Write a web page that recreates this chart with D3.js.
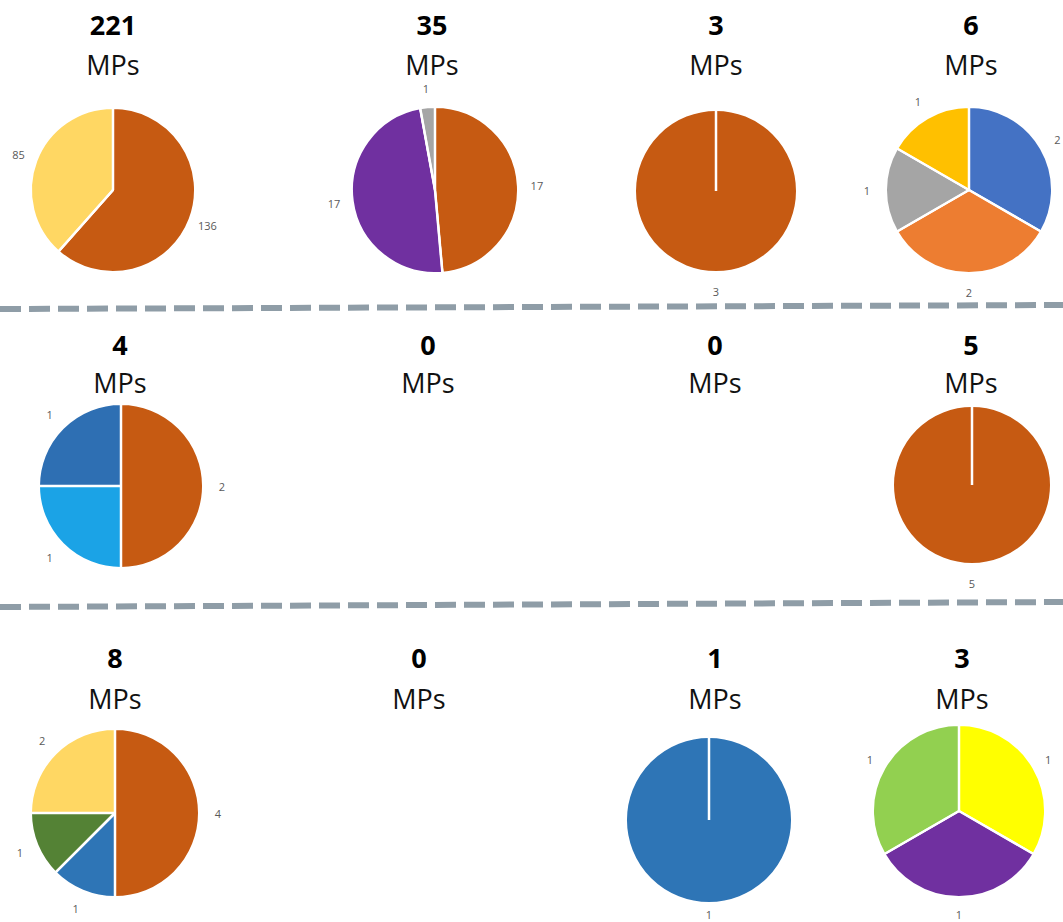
<!DOCTYPE html>
<html>
<head>
<meta charset="utf-8">
<script src="https://cdn.jsdelivr.net/npm/d3@7"></script>
<style>
  html, body { margin: 0; padding: 0; background: #ffffff; }
  svg { display: block; }
</style>
</head>
<body>
<svg id="chart" width="1063" height="922"></svg>
<script>
// MPs per group, read row by row (3 rows x 4 columns)
const totals = [221, 35, 3, 6, 4, 0, 0, 5, 8, 0, 1, 3];

// Party breakdown of each group, slices listed clockwise from 12 o'clock
const sliceValues = [
  [136, 85],
  [17, 17, 1],
  [3],
  [2, 2, 1, 1],
  [2, 1, 1],
  [],
  [],
  [5],
  [4, 1, 1, 2],
  [],
  [1],
  [1, 1, 1]
];

const sliceColors = [
  ["#c65a12", "#ffd763"],
  ["#c65a12", "#7030a0", "#a5a5a5"],
  ["#c65a12"],
  ["#4472c4", "#ed7d31", "#a5a5a5", "#ffc000"],
  ["#c65a12", "#1ba3e6", "#2e6fb3"],
  [],
  [],
  ["#c65a12"],
  ["#c65a12", "#2e75b6", "#548235", "#ffd763"],
  [],
  ["#2e75b6"],
  ["#ffff00", "#7030a0", "#92d050"]
];

const unitLabel = "MPs";

// Panel placement: title centre x, number baseline, unit baseline, pie centre, radius, label gap
const panels = [
  { tx: 113, ny: 35,  uy: 75,  cx: 113, cy: 190, r: 82, lg: 19 },
  { tx: 432, ny: 35,  uy: 75,  cx: 435, cy: 190, r: 83, lg: 19 },
  { tx: 716, ny: 35,  uy: 75,  cx: 716, cy: 191, r: 81, lg: 19 },
  { tx: 971, ny: 35,  uy: 75,  cx: 969, cy: 190, r: 83, lg: 19 },
  { tx: 120, ny: 355, uy: 393, cx: 121, cy: 486, r: 82, lg: 19 },
  { tx: 428, ny: 355, uy: 393 },
  { tx: 715, ny: 355, uy: 393 },
  { tx: 971, ny: 355, uy: 393, cx: 972, cy: 485, r: 79, lg: 19 },
  { tx: 115, ny: 668, uy: 709, cx: 115, cy: 813, r: 84, lg: 19 },
  { tx: 419, ny: 668, uy: 709 },
  { tx: 715, ny: 668, uy: 709, cx: 709, cy: 820, r: 83, lg: 11 },
  { tx: 962, ny: 668, uy: 709, cx: 959, cy: 811, r: 86, lg: 17 }
];

// Dashed row separators (slightly tilted)
const separators = [
  { x1: 0, y1: 309, x2: 1063, y2: 305 },
  { x1: 0, y1: 607, x2: 1063, y2: 602 }
];

const svg = d3.select("#chart");

svg.selectAll("line.sep")
  .data(separators)
  .join("line")
  .attr("class", "sep")
  .attr("x1", d => d.x1).attr("y1", d => d.y1)
  .attr("x2", d => d.x2).attr("y2", d => d.y2)
  .attr("stroke", "#8f9da7")
  .attr("stroke-width", 6)
  .attr("stroke-dasharray", "21 8");

const pie = d3.pie().sort(null).value(d => d);

totals.forEach((total, i) => {
  const p = panels[i];
  const g = svg.append("g");

  g.append("text")
    .attr("x", p.tx).attr("y", p.ny)
    .attr("text-anchor", "middle")
    .attr("font-family", "'Open Sans', sans-serif")
    .attr("font-weight", "bold")
    .attr("font-size", 27)
    .attr("fill", "#000")
    .text(total);

  g.append("text")
    .attr("x", p.tx).attr("y", p.uy)
    .attr("text-anchor", "middle")
    .attr("font-family", "'Open Sans', sans-serif")
    .attr("font-size", 27)
    .attr("fill", "#111")
    .text(unitLabel);

  const vals = sliceValues[i];
  if (!vals.length) return;

  const arcs = pie(vals);
  const arc = d3.arc().innerRadius(0).outerRadius(p.r);
  const labelArc = d3.arc().innerRadius(p.r + p.lg).outerRadius(p.r + p.lg);

  const pg = g.append("g").attr("transform", `translate(${p.cx},${p.cy})`);

  pg.selectAll("path")
    .data(arcs)
    .join("path")
    .attr("d", arc)
    .attr("fill", (d, j) => sliceColors[i][j])
    .attr("stroke", "#fff")
    .attr("stroke-width", 2)
    .attr("stroke-linejoin", "round");

  // White boundary at each slice start (visible even for a single full slice)
  pg.selectAll("line.edge")
    .data(arcs)
    .join("line")
    .attr("class", "edge")
    .attr("x1", 0).attr("y1", 0)
    .attr("x2", d => p.r * Math.sin(d.startAngle))
    .attr("y2", d => -p.r * Math.cos(d.startAngle))
    .attr("stroke", "#fff")
    .attr("stroke-width", 2.5);

  pg.selectAll("text")
    .data(arcs)
    .join("text")
    .attr("transform", d => `translate(${labelArc.centroid(d)})`)
    .attr("text-anchor", "middle")
    .attr("dominant-baseline", "central")
    .attr("font-family", "'Open Sans', sans-serif")
    .attr("font-size", 11)
    .attr("fill", "#595959")
    .text(d => d.data);
});
</script>
</body>
</html>
